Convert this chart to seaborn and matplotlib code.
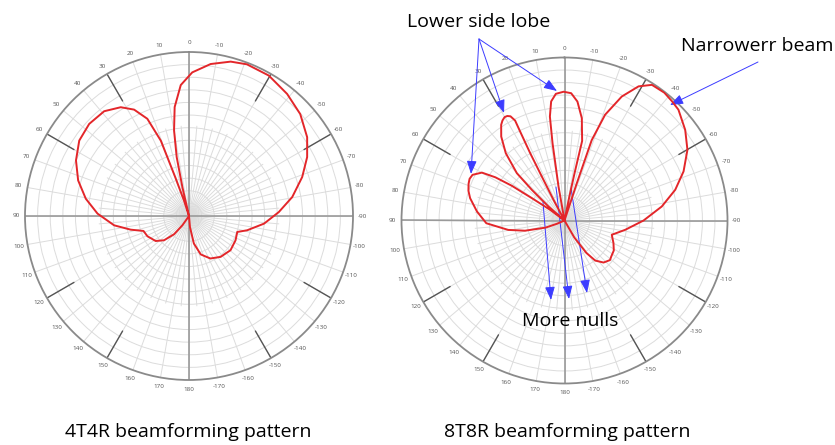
import numpy as np
import matplotlib
matplotlib.use("Agg")
import matplotlib.pyplot as plt
import seaborn as sns

# beam patterns: angle in degrees (0 = up, positive = left),
# gain as a fraction of the outer ring
angle_4t4r = [11.0, 12.9, 11.8, 9.9, 7.5, 3.6, -1.3, -8.1, -15.1, -20.9, -29.6, -38.8,
              -47.5, -56.3, -63.5, -71.0, -79.6, -87.5, -95.8, -103.8, -108.3, -117.5,
              -129.5, -142.3, -153.3, -163.0, -170.0, -175.0, -175.0,
              18.0, 18.0, 19.5, 20.5, 23.2, 27.3, 32.1, 39.0, 47.3, 55.5, 63.8, 72.2,
              80.5, 88.5, 97.1, 103.2, 108.2, 116.0, 126.9, 134.2, 140.7, 144.5, 144.5]
gain_4t4r = [0.0, 0.18, 0.367, 0.53, 0.67, 0.80, 0.876, 0.936, 0.975, 0.99, 0.985, 0.955,
             0.92, 0.866, 0.805, 0.73, 0.64, 0.548, 0.46, 0.365, 0.31, 0.32,
             0.328, 0.315, 0.29, 0.245, 0.17, 0.067, 0.0,
             0.0, 0.10, 0.25, 0.49, 0.645, 0.73, 0.783, 0.822, 0.828, 0.812, 0.768, 0.71,
             0.638, 0.558, 0.46, 0.365, 0.292, 0.282, 0.254, 0.212, 0.144, 0.07, 0.0]

angle_8t8r = [53.3, 53.3, 55.6, 56.6, 58.0, 59.9, 63.6, 66.3, 69.1, 72.8, 76.7, 84.1,
              92.0, 99.5, 104.5, 110.5, 113.5, 113.5,
              28.0, 28.0, 27.3, 27.0, 26.5, 26.3, 27.4, 28.7, 30.1, 31.8, 33.5, 37.0,
              41.1, 45.2, 46.8, 48.8, 48.8,
              10.0, 10.0, 8.8, 8.0, 6.4, 3.9, 0.4, -3.0, -6.2, -9.6, -12.5, -12.0, -11.5,
              -11.5,
              -18.3, -18.3, -18.7, -21.0, -24.8, -28.9, -32.8, -38.0, -42.0, -45.8, -53.1,
              -60.1, -67.6, -74.5, -81.8, -90.0, -98.7, -106.8, -114.8, -121.3, -127.6,
              -131.0, -137.1, -142.5, -146.0, -150.0, -150.0]
gain_8t8r = [0.0, 0.11, 0.243, 0.387, 0.50, 0.586, 0.63, 0.636, 0.63, 0.617, 0.595, 0.54,
             0.48, 0.35, 0.25, 0.125, 0.05, 0.0,
             0.0, 0.143, 0.30, 0.464, 0.61, 0.684, 0.72, 0.731, 0.733, 0.722, 0.704, 0.645,
             0.548, 0.412, 0.275, 0.13, 0.0,
             0.0, 0.21, 0.48, 0.644, 0.735, 0.779, 0.79, 0.782, 0.734, 0.637, 0.50, 0.30,
             0.15, 0.0,
             0.0, 0.24, 0.52, 0.695, 0.838, 0.94, 0.99, 0.995, 0.985, 0.975, 0.926,
             0.87, 0.79, 0.705, 0.603, 0.485, 0.377, 0.303, 0.331, 0.354, 0.362,
             0.37, 0.352, 0.31, 0.24, 0.12, 0.0]

tick_angles = list(range(0, 360, 10))
tick_labels = [str(a) if a <= 180 else str(a - 360) for a in tick_angles]
captions = ["4T4R beamforming pattern", "8T8R beamforming pattern"]

sns.set_style("white")
plt.rcParams["font.family"] = ["Open Sans", "DejaVu Sans"]

W, H = 835, 445
fig = plt.figure(figsize=(W / 100, H / 100), dpi=100)


def px(x, y):
    return (x / W, 1 - y / H)


def polar_axes(cx, cy, rad):
    ax = fig.add_axes([(cx - rad) / W, 1 - (cy + rad) / H, 2 * rad / W, 2 * rad / H],
                      projection="polar")
    ax.set_theta_zero_location("N")
    ax.set_theta_direction(1)
    ax.set_ylim(0, 1)
    ax.set_rgrids(np.arange(1, 13) / 13, labels=[])
    ax.set_thetagrids(tick_angles, labels=tick_labels)
    ax.grid(True, color="#dcdcdc", lw=0.7)
    ax.tick_params(axis="x", pad=-4, labelsize=4.5, labelcolor="#555555")
    ax.spines["polar"].set_color("#8a8a8a")
    ax.spines["polar"].set_linewidth(1.3)
    # extra 5 degree spokes near the centre
    for a in range(5, 360, 10):
        ax.plot([np.deg2rad(a)] * 2, [0, 0.55], color="#dcdcdc", lw=0.7, zorder=1)
    # main axes
    for a in [0, 90, 180, 270]:
        ax.plot([np.deg2rad(a)] * 2, [0, 1], color="#9a9a9a", lw=1.2, zorder=2)
    # dark ticks on the rim
    for a in [30, 60, 120, 150, 210, 240, 300, 330]:
        ax.plot([np.deg2rad(a)] * 2, [0.81, 1], color="#555555", lw=1.0, zorder=2)
    return ax


ax1 = polar_axes(189, 216, 164)
ax2 = polar_axes(564.5, 220.5, 163)

for ax, ang, gain in [(ax1, angle_4t4r, gain_4t4r), (ax2, angle_8t8r, gain_8t8r)]:
    sns.lineplot(x=np.deg2rad(ang), y=gain, ax=ax, sort=False, estimator=None,
                 color="#e3262a", lw=1.4, zorder=5)
    ax.set_xlabel("")
    ax.set_ylabel("")
    ax.set_ylim(0, 1)

fig.text(*px(188, 432), captions[0], ha="center", va="center", fontsize=14, color="black")
fig.text(*px(567, 432), captions[1], ha="center", va="center", fontsize=14, color="black")

blue = "#3c3cff"
arrow = dict(arrowstyle="-|>,head_length=0.8,head_width=0.3", color=blue, lw=0.7,
             mutation_scale=10, shrinkA=0, shrinkB=0)

fig.text(*px(479, 22), "Lower side lobe", ha="center", va="center", fontsize=14,
         color="black")
for tip in [(471, 174), (504, 113), (557, 91)]:
    ax2.annotate("", xy=px(*tip), xycoords="figure fraction",
                 xytext=px(479, 39), textcoords="figure fraction",
                 arrowprops=arrow, annotation_clip=False)

fig.text(*px(757, 46), "Narrowerr beam", ha="center", va="center", fontsize=14,
         color="black")
ax2.annotate("", xy=px(670, 105), xycoords="figure fraction",
             xytext=px(758, 62), textcoords="figure fraction",
             arrowprops=arrow, annotation_clip=False)

fig.text(*px(570, 321), "More nulls", ha="center", va="center", fontsize=14,
         color="black")
for tail, tip in [((543, 202), (551, 300)), ((556, 187), (569, 299)),
                  ((571, 188), (587, 293))]:
    ax2.annotate("", xy=px(*tip), xycoords="figure fraction",
                 xytext=px(*tail), textcoords="figure fraction",
                 arrowprops=arrow, annotation_clip=False)

fig.savefig("out.png", dpi=100)
